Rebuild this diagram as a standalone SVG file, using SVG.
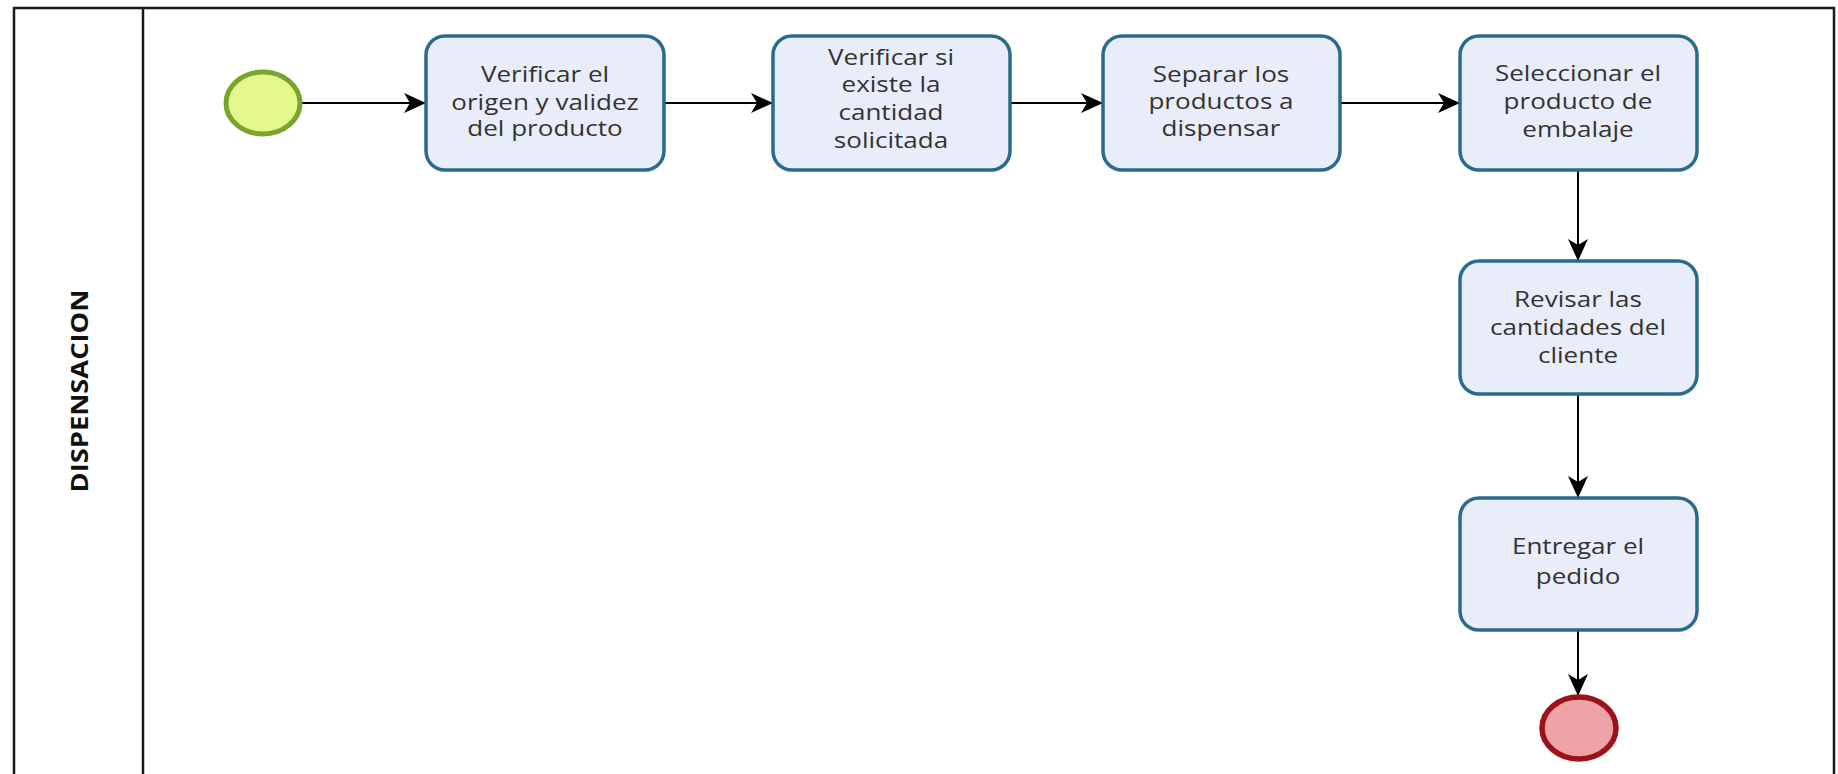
<svg xmlns="http://www.w3.org/2000/svg" width="1838" height="774" viewBox="0 0 1838 774">
  <style>
    .task rect { fill: #e8edf9; stroke: #2a6a8a; stroke-width: 3.5; }
    .task text { font-family: "Open Sans", "Noto Sans", sans-serif; font-size: 21px; fill: #333333; text-anchor: middle; }
    .flow { stroke: #000000; stroke-width: 2; fill: none; marker-end: url(#arrow); }
    .lane { stroke: #1a1a1a; stroke-width: 2.5; fill: none; }
  </style>
  <defs>
    <marker id="arrow" markerUnits="userSpaceOnUse" markerWidth="24" markerHeight="24" viewBox="0 0 24 24" refX="23" refY="12" orient="auto">
      <path d="M1,2 L23,12 L1,22 L7,12 z" fill="#000000"/>
    </marker>
  </defs>

  <rect x="0" y="0" width="1838" height="774" fill="#ffffff"/>

  <!-- pool frame and lane header -->
  <g id="pool">
    <path class="lane" d="M14,774 L14,8 L1834,8 L1834,774"/>
    <line class="lane" x1="143" y1="8" x2="143" y2="774"/>
    <text x="0" y="0" transform="translate(88,391) rotate(-90)" font-family="Open Sans, Noto Sans, sans-serif" font-size="24" font-weight="bold" fill="#111111" text-anchor="middle" textLength="203" lengthAdjust="spacingAndGlyphs">DISPENSACION</text>
  </g>

  <!-- connectors -->
  <g id="connectors">
    <line class="flow" x1="302" y1="103" x2="426" y2="103"/>
    <line class="flow" x1="664" y1="103" x2="773" y2="103"/>
    <line class="flow" x1="1010" y1="103" x2="1103" y2="103"/>
    <line class="flow" x1="1340" y1="103" x2="1460" y2="103"/>
    <line class="flow" x1="1578" y1="170" x2="1578" y2="261"/>
    <line class="flow" x1="1578" y1="394" x2="1578" y2="498"/>
    <line class="flow" x1="1578" y1="630" x2="1578" y2="696"/>
  </g>

  <!-- start event -->
  <g id="start">
    <ellipse cx="263" cy="103" rx="37" ry="31" fill="#e4f78c" stroke="#79a52f" stroke-width="5"/>
  </g>

  <g id="task1" class="task">
    <rect x="426" y="36" width="238" height="134" rx="19"/>
    <g transform="translate(545,0) scale(1.24,1)">
      <text x="0" y="82">Verificar el</text>
      <text x="0" y="110">origen y validez</text>
      <text x="0" y="136">del producto</text>
    </g>
  </g>

  <g id="task2" class="task">
    <rect x="773" y="36" width="237" height="134" rx="19"/>
    <g transform="translate(891,0) scale(1.24,1)">
      <text x="0" y="65">Verificar si</text>
      <text x="0" y="92">existe la</text>
      <text x="0" y="120">cantidad</text>
      <text x="0" y="148">solicitada</text>
    </g>
  </g>

  <g id="task3" class="task">
    <rect x="1103" y="36" width="237" height="134" rx="19"/>
    <g transform="translate(1221,0) scale(1.24,1)">
      <text x="0" y="82">Separar los</text>
      <text x="0" y="109">productos a</text>
      <text x="0" y="136">dispensar</text>
    </g>
  </g>

  <g id="task4" class="task">
    <rect x="1460" y="36" width="237" height="134" rx="19"/>
    <g transform="translate(1578,0) scale(1.24,1)">
      <text x="0" y="81">Seleccionar el</text>
      <text x="0" y="109">producto de</text>
      <text x="0" y="137">embalaje</text>
    </g>
  </g>

  <g id="task5" class="task">
    <rect x="1460" y="261" width="237" height="133" rx="19"/>
    <g transform="translate(1578,0) scale(1.24,1)">
      <text x="0" y="307">Revisar las</text>
      <text x="0" y="335">cantidades del</text>
      <text x="0" y="363">cliente</text>
    </g>
  </g>

  <g id="task6" class="task">
    <rect x="1460" y="498" width="237" height="132" rx="19"/>
    <g transform="translate(1578,0) scale(1.24,1)">
      <text x="0" y="554">Entregar el</text>
      <text x="0" y="584">pedido</text>
    </g>
  </g>

  <!-- end event -->
  <g id="end">
    <ellipse cx="1579" cy="728" rx="37" ry="31" fill="#eea3a6" stroke="#9b1219" stroke-width="5.5"/>
  </g>
</svg>
